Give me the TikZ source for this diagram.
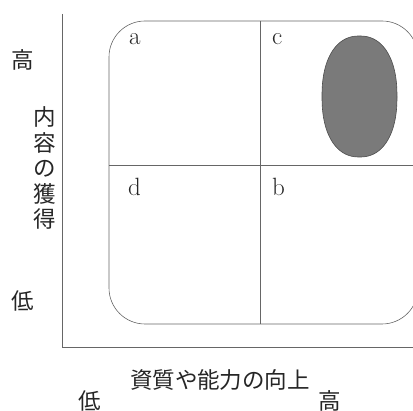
\documentclass[tikz,border=0pt]{standalone}
\usepackage{fontspec}
\newfontfamily\jp{Noto Sans CJK JP}
\begin{document}
\begin{tikzpicture}[x=1pt,y=-1pt,
  thinline/.style={draw=black!60,line width=0.6pt},
  jplabel/.style={font=\jp\fontsize{22.5}{25}\selectfont,inner sep=0pt,text=black!85},
  qlabel/.style={font=\fontsize{25}{27}\selectfont,inner sep=0pt,anchor=base west,text=black!85}]
\useasboundingbox (0,0) rectangle (413,411);
\clip (0,0) rectangle (413,411);
% axes
\coordinate (ytop) at (62,14);
\coordinate (origin) at (62,347);
\coordinate (xend) at (413,347);
\draw[thinline] (ytop) -- (origin) -- (xend);
% rounded frame
\draw[thinline,rounded corners=36pt] (109,21) rectangle (418,324);
% dividers
\coordinate (vt) at (260,21);
\coordinate (vb) at (260,324);
\coordinate (hl) at (109,165);
\coordinate (hr) at (418,165);
\draw[thinline] (vt) -- (vb);
\draw[thinline] (hl) -- (hr);
% quadrant labels
\node[qlabel] (a) at (129,45) {a};
\node[qlabel] (c) at (272,45) {c};
\node[qlabel] (d) at (128,196) {d};
\node[qlabel] (b) at (272,196) {b};
% shaded superellipse
\draw[draw=black!70,fill=black!52,line width=0.6pt]
  plot[domain=1:361,samples=121,smooth cycle]
  ({359.5+37.5*sign(cos(\x))*abs(cos(\x))^0.88},{96.5+60.5*sign(sin(\x))*abs(sin(\x))^0.88});
% y labels
\node[jplabel] (yhigh) at (23,60) {高};
\node[jplabel] (ylow) at (23,301) {低};
\node[jplabel,align=center] (ytitle) at (45,168) {内\\[0.5pt]容\\[0.5pt]の\\[0.5pt]獲\\[0.5pt]得};
% x labels
\node[jplabel] (xtitle) at (220,380) {資質や能力の向上};
\node[jplabel] (xlow) at (90,401) {低};
\node[jplabel] (xhigh) at (330,401) {高};
\end{tikzpicture}
\end{document}
